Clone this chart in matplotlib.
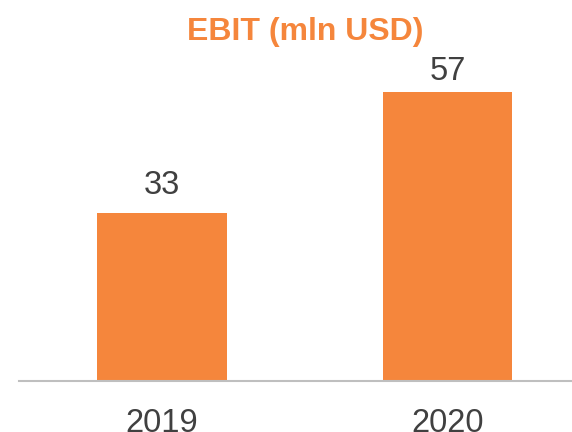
import matplotlib.pyplot as plt

# Data
years = ["2019", "2020"]
ebit = [33, 57]

orange = "#F5863C"
text_col = "#404040"
plt.rcParams['font.family'] = ['Liberation Sans', 'DejaVu Sans']

fig = plt.figure(figsize=(5.72, 4.32), dpi=100)
ax = fig.add_axes([19/572, 51.5/432, 553/572, 380.5/432])

x = range(len(years))
bars = ax.bar(x, ebit, width=0.455, color=orange)

# value labels sit a bit differently above each bar in the original
label_gap = [13.5, 8]
for b, v, g in zip(bars, ebit, label_gap):
    ax.annotate(str(v), (b.get_x() + b.get_width()/2, v), xytext=(0, g),
                textcoords='offset points', ha='center', va='baseline',
                fontsize=23.5, color=text_col)

ax.set_xlim(-0.501, 1.436)
ax.set_ylim(0, 75.05)
ax.set_xticks(list(x))
ax.set_xticklabels(years, fontsize=23.5, color=text_col)
ax.tick_params(axis='x', length=0, pad=20)
ax.set_yticks([])
for s in ['left', 'right', 'top']:
    ax.spines[s].set_visible(False)
ax.spines['bottom'].set_color('#BFBFBF')
ax.spines['bottom'].set_linewidth(1.5)

fig.text(305.5/572, (432-40)/432, "EBIT (mln USD)", ha='center', va='baseline',
         fontsize=23, fontweight='bold', color=orange)

fig.savefig("out.png", dpi=100)
